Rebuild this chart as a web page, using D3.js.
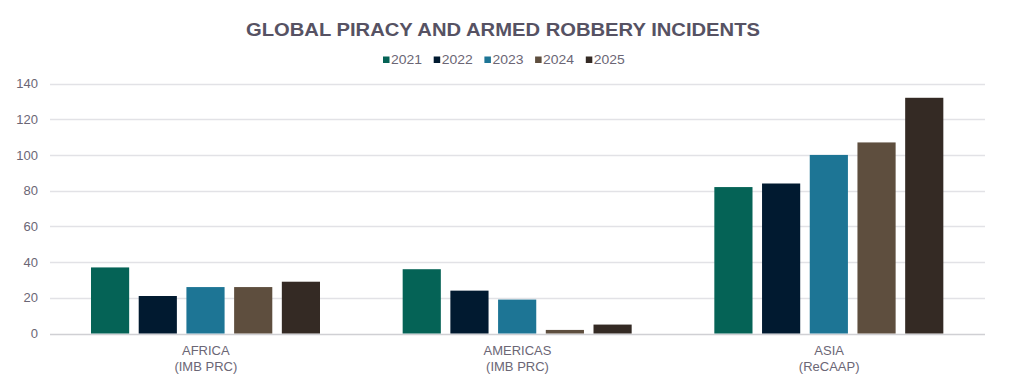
<!DOCTYPE html>
<html><head><meta charset="utf-8">
<script src="https://cdn.jsdelivr.net/npm/d3@7"></script>
<style>body{margin:0;background:#fff;}svg{display:block;font-family:"Liberation Sans",Arial,sans-serif;}</style>
</head><body><svg id="c" width="1009" height="385"></svg>
<script>
const categories = [["AFRICA","(IMB PRC)"],["AMERICAS","(IMB PRC)"],["ASIA","(ReCAAP)"]];
const years = ["2021","2022","2023","2024","2025"];
const v2021 = [37, 36, 82];
const v2022 = [21, 24, 84];
const v2023 = [26, 19, 100];
const v2024 = [26, 2, 107];
const v2025 = [29, 5, 132];
const yTicks = [0,20,40,60,80,100,120,140];
const colors = ["#056356","#011a30","#1d7595","#5e4e3e","#342a24"];
const series = [v2021,v2022,v2023,v2024,v2025];

const svg = d3.select("#c");
const m = {l:50, r:985, t:83.5, b:333.5};
const x0 = d3.scaleBand().domain(d3.range(categories.length)).range([m.l, m.r]).paddingInner(0).paddingOuter(0);
const x1 = d3.scaleBand().domain(years).range([41, 270]).paddingInner(0.2).paddingOuter(0);
const y = d3.scaleLinear().domain([0,140]).range([m.b, m.t]);

// gridlines
svg.append("g").selectAll("line").data(yTicks).join("line")
  .attr("x1", m.l).attr("x2", m.r)
  .attr("y1", d=>Math.round(y(d))+0.5).attr("y2", d=>Math.round(y(d))+0.5)
  .attr("stroke", d=> d===0 ? "#d0d0d4" : "#e2e2e6").attr("stroke-width",1.5);

// y axis labels
const yAxis = d3.axisLeft(y).tickValues(yTicks).tickSize(0).tickPadding(0);
const ga = svg.append("g").attr("transform",`translate(38,0)`).call(yAxis);
ga.select(".domain").remove();
ga.selectAll("text").attr("fill","#6b6675").attr("font-size","13px").attr("font-family","Liberation Sans, Arial, sans-serif");

// bars
const groups = svg.append("g").selectAll("g").data(categories.map((c,i)=>i)).join("g")
  .attr("transform", i=>`translate(${x0(i)},0)`);
groups.selectAll("rect").data(i=>years.map((yr,k)=>({yr, v:series[k][i], k}))).join("rect")
  .attr("x", d=>x1(d.yr)).attr("width", x1.bandwidth())
  .attr("y", d=>y(d.v)).attr("height", d=>y(0)-y(d.v))
  .attr("fill", d=>colors[d.k]);

// category labels
const cl = svg.append("g").selectAll("text").data(categories).join("text")
  .attr("x",(d,i)=>x0(i)+x0.bandwidth()/2).attr("y",355)
  .attr("text-anchor","middle").attr("fill","#6b6675").attr("font-size","13px");
cl.append("tspan").attr("x",(d,i)=>x0(i)+x0.bandwidth()/2).text(d=>d[0]);
cl.append("tspan").attr("x",(d,i)=>x0(i)+x0.bandwidth()/2).attr("dy",15.5).text(d=>d[1]);

// title
svg.append("text").attr("x",246).attr("y",35.5)
  .attr("font-size","18px").attr("font-weight","bold").attr("fill","#565263")
  .attr("textLength",514).attr("lengthAdjust","spacingAndGlyphs")
  .text("GLOBAL PIRACY AND ARMED ROBBERY INCIDENTS");

// legend
const lg = svg.append("g").selectAll("g").data(years).join("g")
  .attr("transform",(d,i)=>`translate(${383+i*50.7},63.5)`);
lg.append("rect").attr("x",0).attr("y",-7).attr("width",6.5).attr("height",6.5).attr("fill",(d,i)=>colors[i]);
lg.append("text").attr("x",8).attr("y",0).attr("font-size","13px").attr("fill","#6b6675")
  .attr("textLength",31).attr("lengthAdjust","spacingAndGlyphs").text(d=>d);
</script></body></html>
